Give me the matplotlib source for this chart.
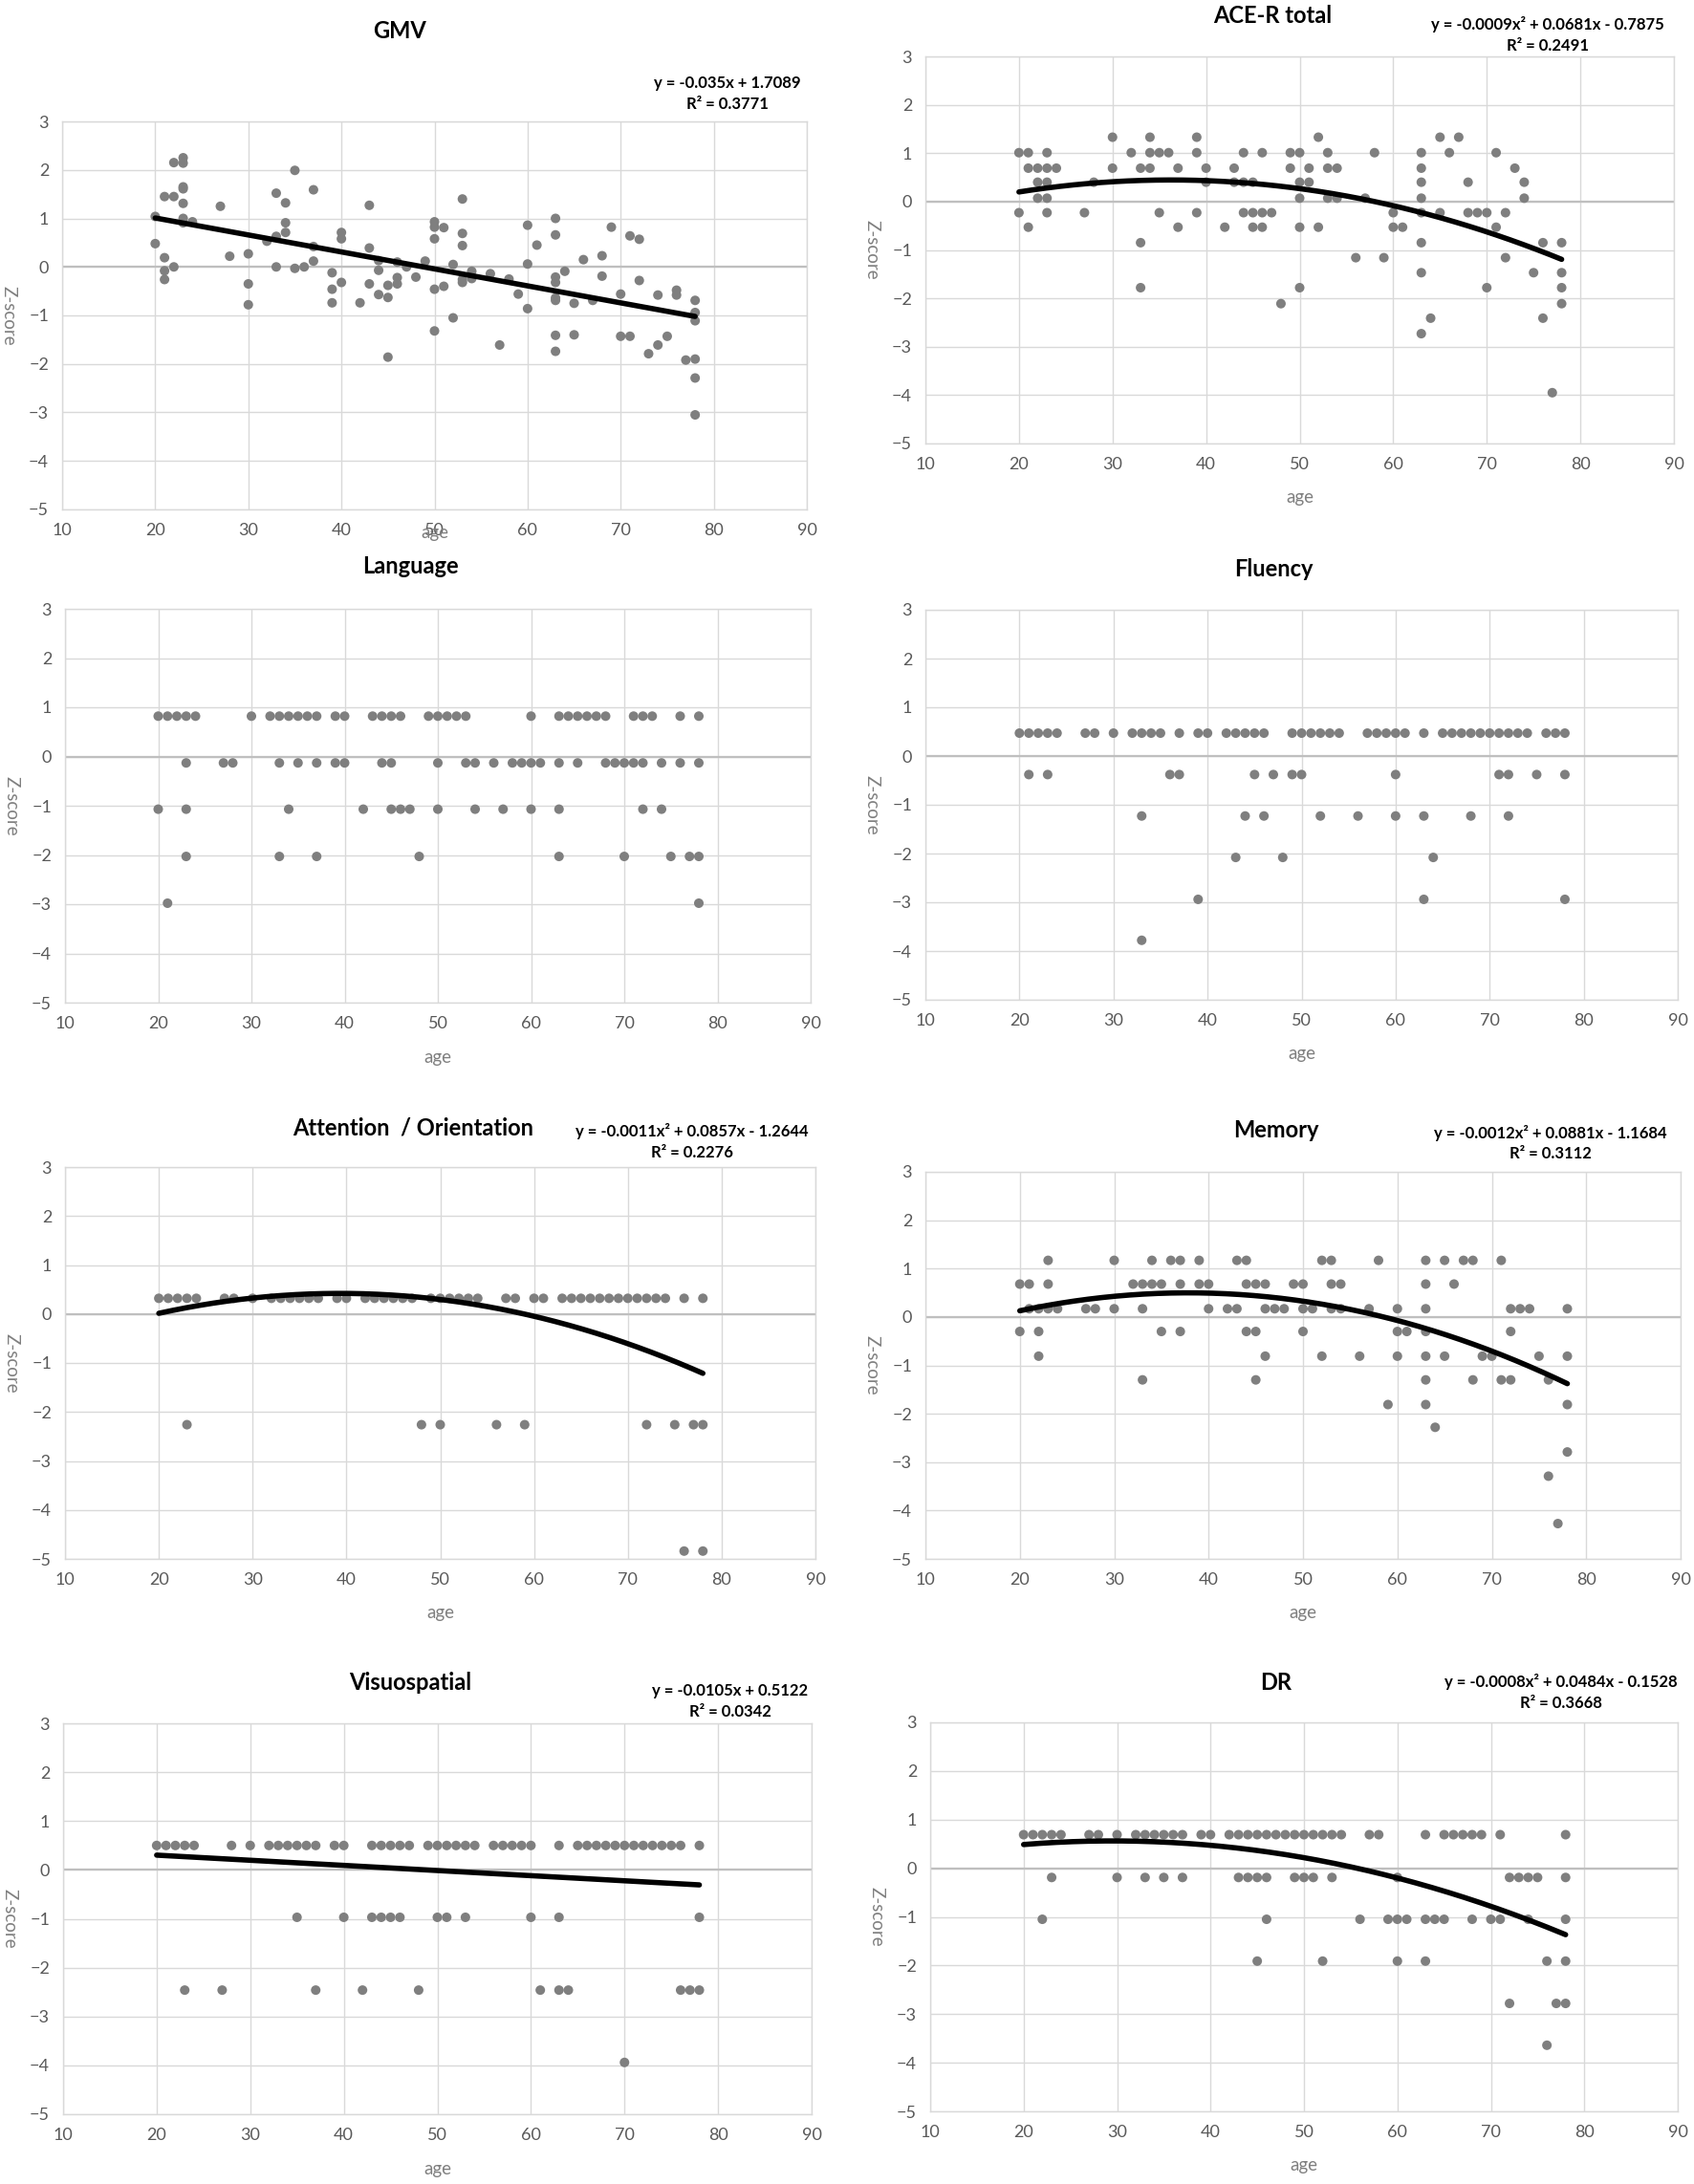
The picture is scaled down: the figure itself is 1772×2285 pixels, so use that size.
import numpy as np
import matplotlib
matplotlib.use("Agg")
import matplotlib.pyplot as plt

plt.rcParams['font.family'] = ['Lato', 'DejaVu Sans']

# ---- data ----
x_ticks = [10, 20, 30, 40, 50, 60, 70, 80, 90]
y_ticks = [-5, -4, -3, -2, -1, 0, 1, 2, 3]

gmv_age = [20, 20, 21, 21, 21, 21, 22, 22, 22, 23, 23, 23, 23, 23, 23, 23, 24, 27, 28,
           30, 30, 30, 32, 33, 33, 33, 34, 34, 34, 35, 35, 36, 37, 37, 37, 39, 39, 39,
           40, 40, 40, 42, 43, 43, 43, 44, 44, 44, 45, 45, 45, 46, 46, 46, 47, 48, 49,
           50, 50, 50, 50, 50, 51, 51, 52, 52, 53, 53, 53, 53, 53, 54, 54, 56, 57, 58,
           59, 60, 60, 60, 61, 63, 63, 63, 63, 63, 63, 63, 63, 64, 65, 65, 66, 67, 68,
           68, 69, 70, 70, 71, 71, 72, 72, 73, 74, 74, 75, 76, 76, 77, 78, 78, 78, 78,
           78, 78]
gmv_z = [1.04, 0.48, 1.45, 0.19, -0.08, -0.26, 2.15, 1.45, 0.0, 2.25, 2.14, 1.65, 1.61,
         1.31, 1.0, 0.91, 0.93, 1.25, 0.22, 0.27, -0.35, -0.78, 0.53, 1.52, 0.63, 0.0,
         1.32, 0.91, 0.71, 1.99, -0.03, 0.0, 1.59, 0.42, 0.12, -0.12, -0.46, -0.74, 0.71,
         0.58, -0.32, -0.74, 1.27, 0.39, -0.35, 0.13, -0.07, -0.57, -0.38, -0.63, -1.86,
         0.1, -0.22, -0.35, 0.0, -0.21, 0.12, 0.93, 0.82, 0.58, -0.46, -1.32, 0.81, -0.40,
         0.05, -1.05, 1.40, 0.69, 0.44, -0.26, -0.32, -0.09, -0.24, -0.14, -1.61, -0.25,
         -0.56, 0.86, 0.06, -0.86, 0.45, 1.0, 0.66, -0.21, -0.32, -0.64, -0.69, -1.41,
         -1.74, -0.09, -0.75, -1.40, 0.15, -0.69, 0.23, -0.19, 0.82, -0.56, -1.43, 0.64,
         -1.43, 0.57, -0.28, -1.79, -0.58, -1.61, -1.43, -0.48, -0.58, -1.92, -0.69, -0.94,
         -1.11, -1.90, -2.29, -3.05]

# the other scores take only a few distinct values: one list of ages per level
ace_levels = [1.33, 1.01, 0.69, 0.40, 0.07, -0.23, -0.53, -0.85, -1.16, -1.47, -1.78,
              -2.11, -2.41, -2.73, -3.95]
ace_ages = [
    [30, 34, 39, 52, 65, 67],
    [20, 21, 23, 32, 34, 35, 36, 39, 44, 46, 49, 50, 53, 58, 63, 66, 71],
    [21, 22, 23, 24, 30, 33, 34, 37, 40, 43, 49, 51, 53, 54, 63, 73],
    [22, 23, 28, 40, 43, 44, 45, 50, 51, 63, 68, 74],
    [22, 23, 50, 53, 54, 57, 63, 74],
    [20, 23, 27, 35, 39, 44, 45, 46, 47, 60, 63, 65, 68, 69, 70, 72],
    [21, 37, 42, 45, 46, 50, 52, 60, 61, 71],
    [33, 63, 76, 78],
    [56, 59, 72],
    [63, 75, 78],
    [33, 50, 70, 78],
    [48, 78],
    [64, 76],
    [63],
    [77],
]

lang_levels = [0.82, -0.13, -1.07, -2.03, -2.98]
lang_ages = [
    [20, 21, 22, 23, 24, 30, 32, 33, 34, 35, 36, 37, 39, 40, 43, 44, 45, 46, 49, 50, 51,
     52, 53, 60, 63, 64, 65, 66, 67, 68, 71, 72, 73, 76, 78],
    [23, 27, 28, 33, 35, 37, 39, 40, 44, 45, 50, 53, 54, 56, 58, 59, 60, 61, 63, 65, 68,
     69, 70, 71, 72, 74, 76, 78],
    [20, 23, 34, 42, 45, 46, 47, 50, 54, 57, 60, 63, 72, 74],
    [23, 33, 37, 48, 63, 70, 75, 77, 78],
    [21, 78],
]

flu_levels = [0.47, -0.38, -1.23, -2.08, -2.94, -3.78]
flu_ages = [
    [20, 21, 22, 23, 24, 27, 28, 30, 32, 33, 34, 35, 37, 39, 40, 42, 43, 44, 45, 46, 49,
     50, 51, 52, 53, 54, 57, 58, 59, 60, 61, 63, 65, 66, 67, 68, 69, 70, 71, 72, 73, 74,
     76, 77, 78],
    [21, 23, 36, 37, 45, 47, 49, 50, 60, 71, 72, 75, 78],
    [33, 44, 46, 52, 56, 60, 63, 68, 72],
    [43, 48, 64],
    [39, 63, 78],
    [33],
]

att_levels = [0.32, -2.26, -4.84]
att_ages = [
    [20, 21, 22, 23, 24, 27, 28, 30, 32, 33, 34, 35, 36, 37, 39, 40, 42, 43, 44, 45, 46,
     47, 49, 50, 51, 52, 53, 54, 57, 58, 60, 61, 63, 64, 65, 66, 67, 68, 69, 70, 71, 72,
     73, 74, 76, 78],
    [23, 48, 50, 56, 59, 72, 75, 77, 78],
    [76, 78],
]

mem_levels = [1.17, 0.68, 0.17, -0.30, -0.81, -1.30, -1.81, -2.28, -2.79, -3.29, -4.27]
mem_ages = [
    [23, 30, 34, 36, 37, 39, 43, 44, 52, 53, 58, 63, 65, 67, 68, 71],
    [20, 21, 23, 32, 33, 34, 35, 37, 39, 40, 44, 45, 46, 49, 50, 53, 54, 63, 66],
    [21, 22, 23, 24, 27, 28, 30, 33, 40, 42, 43, 46, 47, 48, 50, 51, 53, 54, 57, 60, 63,
     72, 73, 74, 78],
    [20, 22, 35, 37, 44, 45, 50, 60, 61, 63, 72],
    [22, 46, 52, 56, 60, 63, 65, 69, 70, 75, 78],
    [33, 45, 63, 68, 71, 72, 76],
    [59, 63, 78],
    [64],
    [78],
    [76],
    [77],
]

vis_levels = [0.50, -0.97, -2.46, -3.94]
vis_ages = [
    [20, 21, 22, 23, 24, 28, 30, 32, 33, 34, 35, 36, 37, 39, 40, 43, 44, 45, 46, 47, 49,
     50, 51, 52, 53, 54, 56, 57, 58, 59, 60, 63, 65, 66, 67, 68, 69, 70, 71, 72, 73, 74,
     75, 76, 78],
    [35, 40, 43, 44, 45, 46, 50, 51, 53, 60, 63, 78],
    [23, 27, 37, 42, 48, 61, 63, 64, 76, 77, 78],
    [70],
]

dr_levels = [0.69, -0.19, -1.05, -1.91, -2.78, -3.64]
dr_ages = [
    [20, 21, 22, 23, 24, 27, 28, 30, 32, 33, 34, 35, 36, 37, 39, 40, 42, 43, 44, 45, 46,
     47, 48, 49, 50, 51, 52, 53, 54, 57, 58, 63, 65, 66, 67, 68, 69, 71, 78],
    [23, 30, 33, 35, 37, 43, 44, 45, 46, 49, 50, 51, 53, 60, 72, 73, 74, 75, 78],
    [22, 46, 56, 59, 60, 61, 63, 64, 65, 68, 70, 71, 74, 78],
    [45, 52, 60, 63, 76, 78],
    [72, 77, 78],
    [76],
]

# trend line coefficients (highest power first), as drawn
gmv_fit = [-0.035, 1.7089]
ace_fit = [-0.00094, 0.0681, -0.7875]
att_fit = [-0.00109, 0.0857, -1.2644]
mem_fit = [-0.001164, 0.0881, -1.1684]
vis_fit = [-0.0105, 0.5122]
dr_fit = [-0.00082, 0.0484, -0.1528]

gmv_eq = ["y = -0.035x + 1.7089", "R² = 0.3771"]
ace_eq = ["y = -0.0009x² + 0.0681x - 0.7875", "R² = 0.2491"]
att_eq = ["y = -0.0011x² + 0.0857x - 1.2644", "R² = 0.2276"]
mem_eq = ["y = -0.0012x² + 0.0881x - 1.1684", "R² = 0.3112"]
vis_eq = ["y = -0.0105x + 0.5122", "R² = 0.0342"]
dr_eq = ["y = -0.0008x² + 0.0484x - 0.1528", "R² = 0.3668"]


def expand(levels, ages_by_level):
    ages, zs = [], []
    for lev, ages_here in zip(levels, ages_by_level):
        ages += ages_here
        zs += [lev] * len(ages_here)
    return ages, zs


W, H = 1772, 2285
fig = plt.figure(figsize=(W / 100, H / 100), dpi=100)
fig.patch.set_facecolor('white')

GRID = '#d9d9d9'
DOT = '#7f7f7f'
TXT = '#595959'


def fx(px):
    return px / W


def fy(py):
    return 1 - py / H


def panel(box, title, title_xy, ages, zs, fit=None, eq=None, eq_xy=None,
          age_y=None):
    left, right, top, bottom = box
    ax = fig.add_axes([fx(left), fy(bottom), (right - left) / W, (bottom - top) / H])
    ax.set_xlim(10, 90)
    ax.set_ylim(-5, 3)
    ax.set_xticks(x_ticks)
    ax.set_yticks(y_ticks)
    ax.grid(True, color=GRID, lw=1.0, zorder=0)
    ax.set_axisbelow(True)
    for s in ax.spines.values():
        s.set_color(GRID)
        s.set_linewidth(1.0)
    ax.axhline(0, color='#bfbfbf', lw=1.6, zorder=1)
    ax.tick_params(length=0, labelsize=13, labelcolor=TXT, pad=10)
    ax.scatter(ages, zs, s=52, color=DOT, edgecolors='none', zorder=3)
    if fit is not None:
        xs = np.linspace(20, 78, 200)
        ax.plot(xs, np.polyval(fit, xs), color='black', lw=4, zorder=4,
                solid_capstyle='round')
    fig.text(fx(title_xy[0]), fy(title_xy[1]), title, ha='center', va='center',
             fontsize=17, fontweight='bold', color='black')
    if eq is not None:
        fig.text(fx(eq_xy[0]), fy(eq_xy[1]), eq[0], ha='center', va='center',
                 fontsize=12, fontweight='bold', color='black')
        fig.text(fx(eq_xy[0]), fy(eq_xy[1] + 22), eq[1], ha='center', va='center',
                 fontsize=12, fontweight='bold', color='black')
    cx = (left + right) / 2
    ay = bottom + 57 if age_y is None else age_y
    fig.text(fx(cx), fy(ay), 'age', ha='center', va='center', fontsize=13.5,
             color='#7f7f7f')
    fig.text(fx(left - 56), fy((top + bottom) / 2), 'Z-score', ha='center',
             va='center', rotation=270, fontsize=13.5, color='#7f7f7f')
    return ax


panel((65, 844, 127, 533), 'GMV', (418, 32), gmv_age, gmv_z,
      gmv_fit, gmv_eq, (761, 87), age_y=557)

a, z = expand(ace_levels, ace_ages)
panel((968, 1751, 59, 464), 'ACE-R total', (1331, 17), a, z,
      ace_fit, ace_eq, (1619, 26))

a, z = expand(lang_levels, lang_ages)
panel((68, 848, 637, 1049), 'Language', (429, 593), a, z)

a, z = expand(flu_levels, flu_ages)
panel((968, 1755, 638, 1046), 'Fluency', (1332, 595), a, z)

a, z = expand(att_levels, att_ages)
panel((68, 853, 1221, 1631), 'Attention  / Orientation', (432, 1180), a, z,
      att_fit, att_eq, (724, 1184))

a, z = expand(mem_levels, mem_ages)
panel((968, 1758, 1226, 1631), 'Memory', (1335, 1183), a, z,
      mem_fit, mem_eq, (1622, 1185))

a, z = expand(vis_levels, vis_ages)
panel((66, 849, 1803, 2212), 'Visuospatial', (429, 1761), a, z,
      vis_fit, vis_eq, (764, 1769))

a, z = expand(dr_levels, dr_ages)
panel((973, 1755, 1802, 2209), 'DR', (1335, 1761), a, z,
      dr_fit, dr_eq, (1633, 1760))

fig.savefig('out.png', dpi=100, facecolor='white')
